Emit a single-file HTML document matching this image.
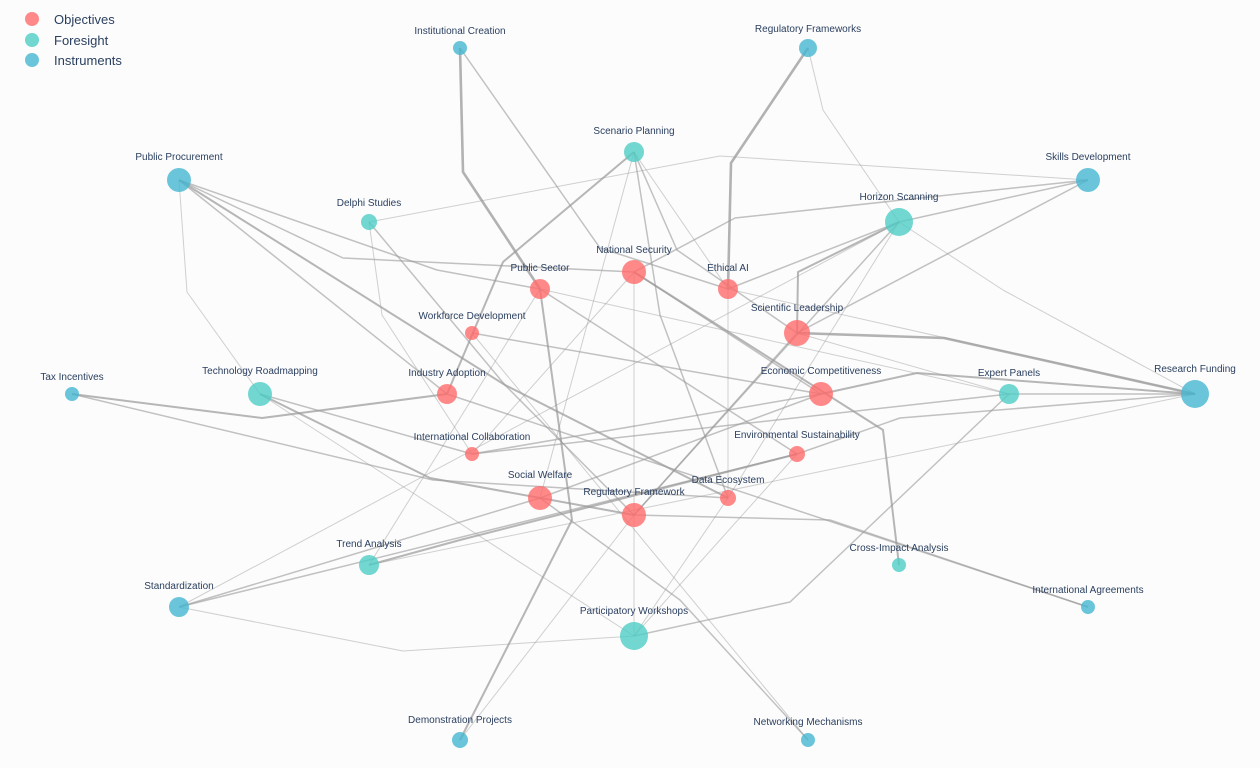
<!DOCTYPE html>
<html><head><meta charset="utf-8"><style>
html,body{margin:0;padding:0;background:#fcfcfc;}
svg{display:block;}
text{font-family:"Liberation Sans",Arial,sans-serif;fill:#2a3f5f;}
</style></head><body>
<svg width="1260" height="768" viewBox="0 0 1260 768">
<rect width="1260" height="768" fill="#fcfcfc"/>
<g fill="none" stroke="#999" stroke-linejoin="round">
<!-- thick -->
<g stroke-opacity="0.75" stroke-width="2.6">
<polyline points="460,48 463,172 540,289"/>
<polyline points="808,48 731,163 728,289"/>
<polyline points="797,333 944,338 1195,394"/>
</g>
<g stroke-opacity="0.7" stroke-width="2">
<polyline points="821,394 917,373 1195,394"/>
<polyline points="72,394 262,418 447,394"/>
<polyline points="797,333 798,272 899,222"/>
<polyline points="634,272 883,430 899,565"/>
<polyline points="260,394 430,478 634,515"/>
<polyline points="369,565 460,540 797,454"/>
<polyline points="179,180 505,385 728,498"/>
<polyline points="460,740 572,520 540,289"/>
<polyline points="634,152 503,262 447,394"/>
</g>
<g stroke-opacity="0.6" stroke-width="1.5">
<polyline points="460,48 600,248 728,289"/>
<polyline points="179,180 343,258 634,272"/>
<polyline points="179,180 437,270 540,289"/>
<polyline points="179,180 447,394"/>
<polyline points="369,222 505,385 634,515"/>
<polyline points="634,152 677,250 797,333"/>
<polyline points="634,152 660,315 728,498"/>
<polyline points="728,289 899,222 1088,180"/>
<polyline points="797,333 1088,180"/>
<polyline points="634,272 735,218 1088,180"/>
<polyline points="797,454 900,418 1195,394"/>
<polyline points="1009,394 1195,394"/>
<polyline points="72,394 433,480 728,498"/>
<polyline points="260,394 472,454 821,394"/>
<polyline points="179,607 540,498"/>
<polyline points="808,740 680,600 540,498"/>
<polyline points="1088,607 830,520 634,515"/>
<polyline points="472,333 821,394"/>
<polyline points="634,272 821,394"/>
<polyline points="540,289 797,454"/>
<polyline points="634,515 797,333"/>
<polyline points="540,498 821,394"/>
<polyline points="634,636 790,602 1009,394"/>
<polyline points="447,394 1088,607"/>
<polyline points="179,607 797,454"/>
<polyline points="634,515 899,222"/>
<polyline points="472,454 1009,394"/>
</g>
<g stroke-opacity="0.45" stroke-width="1">
<polyline points="808,48 823,110 899,222"/>
<polyline points="369,222 720,156 1088,180"/>
<polyline points="369,222 382,315 472,454"/>
<polyline points="899,222 1003,290 1195,394"/>
<polyline points="179,607 403,651 634,636"/>
<polyline points="179,180 187,292 260,394"/>
<polyline points="634,152 728,289"/>
<polyline points="634,152 540,498"/>
<polyline points="634,272 634,636"/>
<polyline points="728,289 728,498 634,636"/>
<polyline points="899,222 728,498"/>
<polyline points="540,289 369,565"/>
<polyline points="634,272 472,454"/>
<polyline points="797,333 1009,394"/>
<polyline points="634,515 460,740"/>
<polyline points="797,454 634,636"/>
<polyline points="472,333 808,740"/>
<polyline points="260,394 634,636"/>
<polyline points="540,289 1009,394"/>
<polyline points="728,289 1195,394"/>
<polyline points="369,565 1195,394"/>
<polyline points="179,607 899,222"/>
</g>
</g>
<!-- nodes -->
<g fill="#FF6B6B" fill-opacity="0.8">
<circle cx="634" cy="272" r="12"/><circle cx="540" cy="289" r="10"/><circle cx="728" cy="289" r="10"/>
<circle cx="472" cy="333" r="7"/><circle cx="797" cy="333" r="13"/><circle cx="447" cy="394" r="10"/>
<circle cx="821" cy="394" r="12"/><circle cx="472" cy="454" r="7"/><circle cx="797" cy="454" r="8"/>
<circle cx="540" cy="498" r="12"/><circle cx="728" cy="498" r="8"/><circle cx="634" cy="515" r="12"/>
</g>
<g fill="#4ECDC4" fill-opacity="0.8">
<circle cx="634" cy="152" r="10"/><circle cx="369" cy="222" r="8"/><circle cx="899" cy="222" r="14"/>
<circle cx="260" cy="394" r="12"/><circle cx="1009" cy="394" r="10"/><circle cx="369" cy="565" r="10"/>
<circle cx="899" cy="565" r="7"/><circle cx="634" cy="636" r="14"/>
</g>
<g fill="#45B7D1" fill-opacity="0.8">
<circle cx="460" cy="48" r="7"/><circle cx="808" cy="48" r="9"/><circle cx="179" cy="180" r="12"/>
<circle cx="1088" cy="180" r="12"/><circle cx="72" cy="394" r="7"/><circle cx="1195" cy="394" r="14"/>
<circle cx="179" cy="607" r="10"/><circle cx="1088" cy="607" r="7"/><circle cx="460" cy="740" r="8"/>
<circle cx="808" cy="740" r="7"/>
</g>
<g font-size="10" text-anchor="middle">
<text x="634" y="253">National Security</text>
<text x="540" y="271">Public Sector</text>
<text x="728" y="271">Ethical AI</text>
<text x="472" y="319">Workforce Development</text>
<text x="797" y="311">Scientific Leadership</text>
<text x="447" y="376">Industry Adoption</text>
<text x="821" y="374">Economic Competitiveness</text>
<text x="472" y="440">International Collaboration</text>
<text x="797" y="438">Environmental Sustainability</text>
<text x="540" y="478">Social Welfare</text>
<text x="728" y="483">Data Ecosystem</text>
<text x="634" y="495">Regulatory Framework</text>
<text x="634" y="134">Scenario Planning</text>
<text x="369" y="206">Delphi Studies</text>
<text x="899" y="200">Horizon Scanning</text>
<text x="260" y="374">Technology Roadmapping</text>
<text x="1009" y="376">Expert Panels</text>
<text x="369" y="547">Trend Analysis</text>
<text x="899" y="551">Cross-Impact Analysis</text>
<text x="634" y="614">Participatory Workshops</text>
<text x="460" y="34">Institutional Creation</text>
<text x="808" y="32">Regulatory Frameworks</text>
<text x="179" y="160">Public Procurement</text>
<text x="1088" y="160">Skills Development</text>
<text x="72" y="380">Tax Incentives</text>
<text x="1195" y="372">Research Funding</text>
<text x="179" y="589">Standardization</text>
<text x="1088" y="593">International Agreements</text>
<text x="460" y="723">Demonstration Projects</text>
<text x="808" y="725">Networking Mechanisms</text>
</g>
<!-- legend -->
<rect x="18" y="6" width="122" height="64" fill="#fcfcfc"/>
<circle cx="32" cy="19" r="7" fill="#FF6B6B" fill-opacity="0.8"/>
<circle cx="32" cy="40" r="7" fill="#4ECDC4" fill-opacity="0.8"/>
<circle cx="32" cy="60" r="7" fill="#45B7D1" fill-opacity="0.8"/>
<g font-size="13"><text x="54" y="24">Objectives</text><text x="54" y="45">Foresight</text><text x="54" y="65">Instruments</text></g>
</svg>
</body></html>
